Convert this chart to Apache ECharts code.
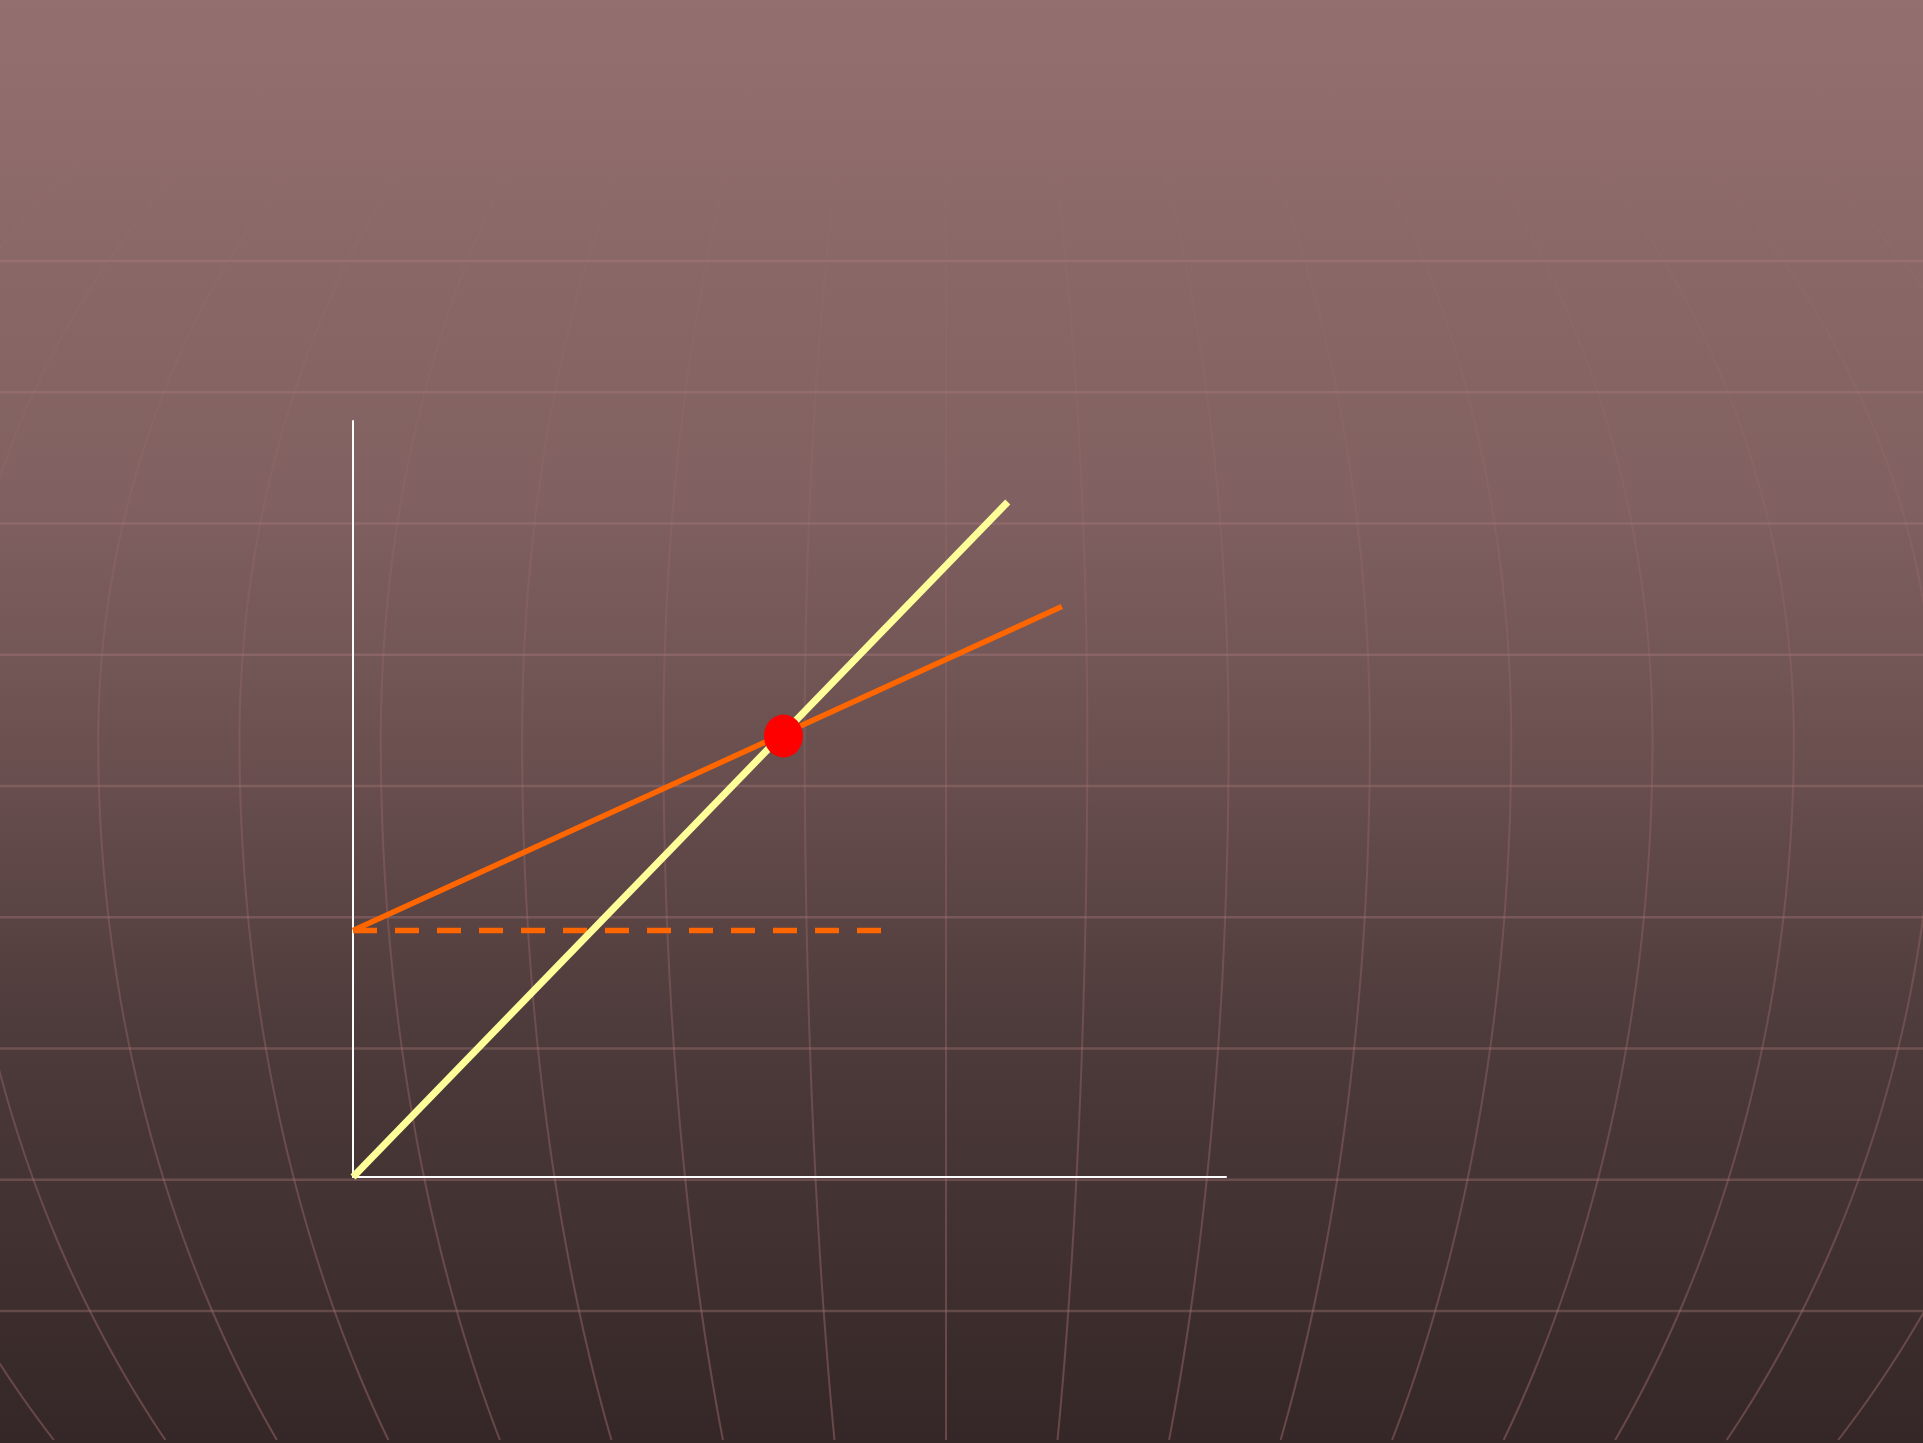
<!DOCTYPE html>
<html>
<head>
<meta charset="utf-8">
<title>Keynesian cross</title>
<script src="https://cdn.jsdelivr.net/npm/echarts@6/dist/echarts.min.js"></script>
<style>
  html, body { margin: 0; padding: 0; }
  #chart { width: 1923px; height: 1443px; }
</style>
</head>
<body>
<div id="chart"></div>
<script>
// data
const xRange = [0, 100];
const yRange = [0, 84];
const line45 = [[0, 0], [75, 75]];
const spendingLine = [[0, 27.4], [81.2, 63.4]];
const autonomousLevel = [[0, 27.4], [62.5, 27.4]];
const equilibrium = [[49.3, 49]];

const W = 1923, H = 1443;
const chart = echarts.init(document.getElementById('chart'));

// background decoration: horizontal rules + bulging meridians
const decor = [];
for (let i = 0; i < 9; i++) {
    const y = 261 + i * 131.25;
    decor.push({
        type: 'line',
        z: 0,
        silent: true,
        shape: { x1: 0, y1: y, x2: W, y2: y },
        style: { stroke: 'rgba(175,125,125,0.35)', lineWidth: 2.5 }
    });
}
const meridianStroke = new echarts.graphic.LinearGradient(0, 0, 0, H, [
    { offset: 0, color: 'rgba(165,110,110,0)' },
    { offset: 0.1, color: 'rgba(165,110,110,0.03)' },
    { offset: 0.25, color: 'rgba(165,110,110,0.16)' },
    { offset: 0.55, color: 'rgba(165,110,110,0.32)' },
    { offset: 1, color: 'rgba(165,110,110,0.45)' }
], true);
function bulge(y) {
    const r = y < 740 ? 900 : 1140;
    const t = (y - 740) / r;
    return Math.sqrt(Math.max(0, 1 - t * t));
}
for (let k = -9; k <= 9; k++) {
    const pts = [];
    for (let y = 0; y <= H; y += 8) {
        pts.push([946 + k * 141.3 * bulge(y), y]);
    }
    decor.push({
        type: 'polyline',
        z: 0,
        silent: true,
        shape: { points: pts },
        style: { stroke: meridianStroke, lineWidth: 2, fill: null }
    });
}

const option = {
    animation: false,
    backgroundColor: new echarts.graphic.LinearGradient(0, 0, 0, 1, [
        { offset: 0, color: '#946f6f' },
        { offset: 0.17, color: '#8b6868' },
        { offset: 0.35, color: '#806060' },
        { offset: 0.53, color: '#6a4f4f' },
        { offset: 0.71, color: '#4e3b3b' },
        { offset: 0.94, color: '#3a2b2b' },
        { offset: 1, color: '#352727' }
    ]),
    graphic: decor,
    grid: { left: 353, top: 421, width: 873, height: 756 },
    xAxis: {
        type: 'value',
        min: xRange[0],
        max: xRange[1],
        axisLine: { show: true, lineStyle: { color: '#ffffff', width: 2 } },
        axisTick: { show: false },
        axisLabel: { show: false },
        splitLine: { show: false }
    },
    yAxis: {
        type: 'value',
        min: yRange[0],
        max: yRange[1],
        axisLine: { show: true, lineStyle: { color: '#ffffff', width: 2 } },
        axisTick: { show: false },
        axisLabel: { show: false },
        splitLine: { show: false }
    },
    series: [
        {
            type: 'line',
            data: autonomousLevel,
            showSymbol: false,
            z: 3,
            lineStyle: { color: '#ff6600', width: 5.5, type: [24, 18], cap: 'butt' }
        },
        {
            type: 'line',
            data: spendingLine,
            showSymbol: false,
            z: 4,
            lineStyle: { color: '#ff6600', width: 5.5 }
        },
        {
            type: 'line',
            data: line45,
            showSymbol: false,
            z: 5,
            lineStyle: { color: '#ffff99', width: 7 }
        },
        {
            type: 'scatter',
            data: equilibrium,
            symbol: 'circle',
            symbolSize: [39, 43],
            z: 6,
            itemStyle: { color: '#ff0000', opacity: 1 }
        }
    ]
};
chart.setOption(option);
</script>
</body>
</html>
